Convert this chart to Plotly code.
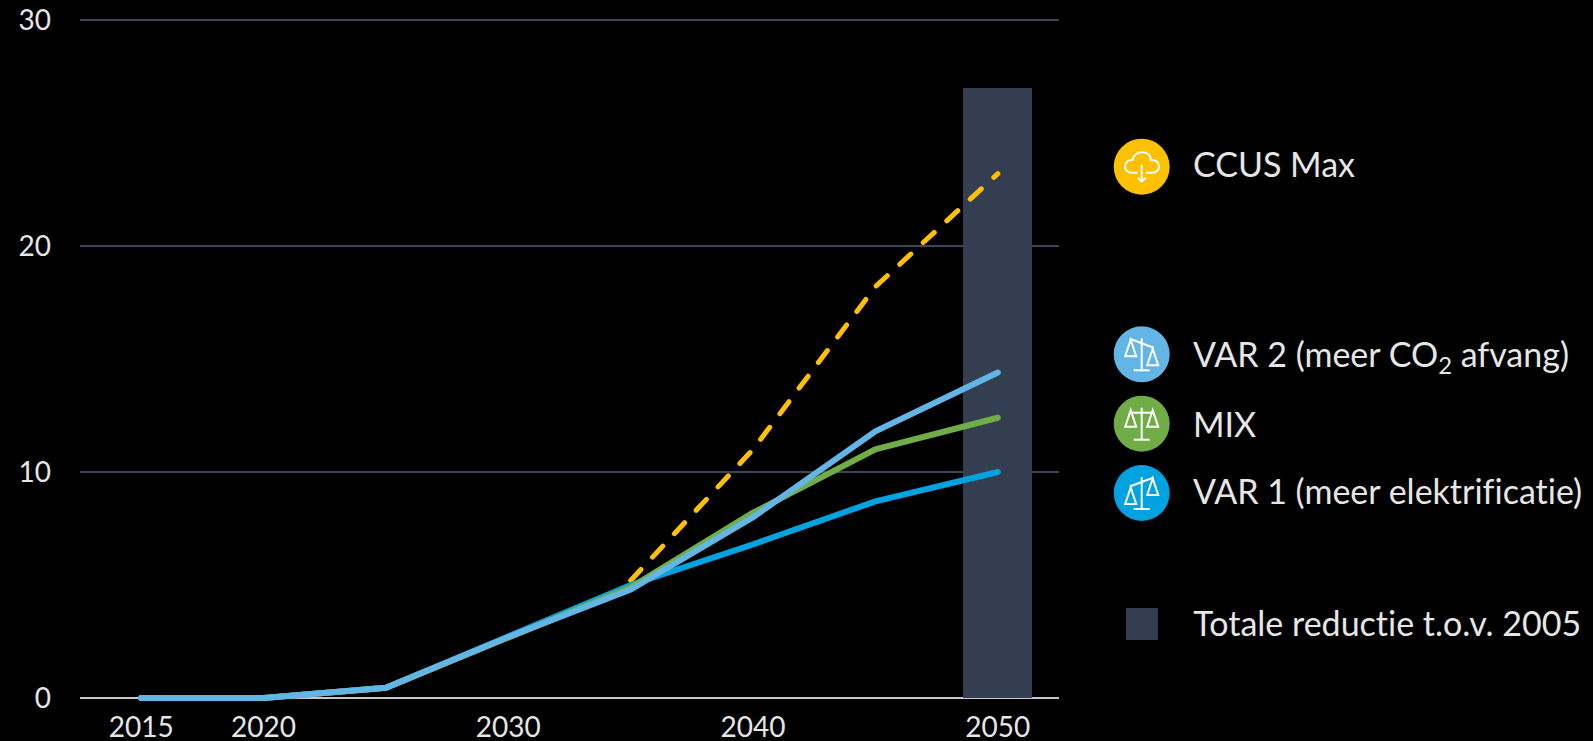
import plotly.graph_objects as go

W, H = 1593, 741
years = ["2015", "2020", "2025", "2030", "2035", "2040", "2045", "2050"]
tick_years = ["2015", "2020", "2030", "2040", "2050"]
y_ticks = [0, 10, 20, 30]
bar_years = ["2050"]
bar_values = [27.0]
years_ccus = ["2035", "2040", "2045", "2050"]
ccus_max = [5.2, 11.0, 18.2, 23.2]
var1 = [0, 0, 0.45, 2.7, 5.0, 6.8, 8.7, 10.0]
mix = [0, 0, 0.45, 2.7, 4.9, 8.2, 11.0, 12.4]
var2 = [0, 0, 0.45, 2.7, 4.8, 8.0, 11.8, 14.4]
legend_labels = ["CCUS Max", "VAR 2 (meer CO<sub>2</sub> afvang)", "MIX", "VAR 1 (meer elektrificatie)", "Totale reductie t.o.v. 2005"]

C_YEL, C_V2, C_MIX, C_V1, C_BAR = "#FFC000", "#62B5E5", "#70AD47", "#00A3E0", "#333F50"
FONT = "Lato, Carlito, Calibri, sans-serif"
TXT = "#E6E6E6"

fig = go.Figure()
fig.add_bar(x=bar_years, y=bar_values, marker_color=C_BAR, marker_line_width=0, width=0.565, showlegend=False)
fig.add_scatter(x=years_ccus, y=ccus_max, mode="lines", line=dict(color=C_YEL, width=5, dash="15px,17px"), showlegend=False)
fig.add_scatter(x=years, y=var1, mode="lines", line=dict(color=C_V1, width=6), showlegend=False)
fig.add_scatter(x=years, y=mix, mode="lines", line=dict(color=C_MIX, width=6), showlegend=False)
fig.add_scatter(x=years, y=var2, mode="lines", line=dict(color=C_V2, width=6), showlegend=False)

def px(x, y):
    return f"{x / W:.5f},{1 - y / H:.5f}"

def path(cmds):
    return " ".join(c if isinstance(c, str) else px(*c) for c in cmds)

shapes = []
def line_path(cmds, width=2):
    shapes.append(dict(type="path", xref="paper", yref="paper", path=path(cmds), line=dict(color="white", width=width), layer="above"))

def circle(cx, cy, r, color):
    shapes.append(dict(type="circle", xref="paper", yref="paper", x0=(cx - r) / W, x1=(cx + r) / W,
                       y0=1 - (cy + r) / H, y1=1 - (cy - r) / H, fillcolor=color, line_width=0, layer="above"))

def balance(cx, cy, color, tilt):
    circle(cx, cy, 28, color)
    ly, ry = -11 - tilt * 4.5, -11 + tilt * 4.5
    line_path(["M", (cx, cy - 16), "L", (cx, cy + 16)])
    line_path(["M", (cx - 8, cy + 16), "L", (cx + 8, cy + 16)])
    line_path(["M", (cx - 12, cy + ly), "L", (cx + 12, cy + ry)])
    for sx, base in ((-11, ly), (11, ry)):
        top = cy + base + (1 if tilt else -2.5)
        bot = top + 16.5
        line_path(["M", (cx + sx, top), "L", (cx + sx - 5.5, bot), "L", (cx + sx + 5.5, bot), "Z"])

LX = 1141.7
circle(LX, 166.7, 28, C_YEL)
c = lambda a, b: (LX + a, 166.7 + b)
line_path(["M", c(-4, 6), "L", c(-10, 6), "C", c(-19, 6), c(-19, -7), c(-9, -7), "C", c(-8, -17), c(9, -17), c(9, -7),
           "C", c(20, -7), c(20, 6), c(10, 6), "L", c(4, 6)])
line_path(["M", c(0, -2), "L", c(0, 15)])
line_path(["M", c(-4, 11), "L", c(0, 15), "L", c(4, 11)])
balance(LX, 354.3, C_V2, 1)
balance(LX, 423.7, C_MIX, 0)
balance(LX, 493, C_V1, -1)
shapes.append(dict(type="rect", xref="paper", yref="paper", x0=1126 / W, x1=1158 / W, y0=1 - 640 / H, y1=1 - 608 / H,
                   fillcolor=C_BAR, line_width=0))

ann = []
for lab, yy in zip(legend_labels, [164, 356, 424, 490, 622]):
    ann.append(dict(text=lab, xref="paper", yref="paper", x=1191 / W, y=1 - yy / H, xanchor="left", yanchor="middle",
                    showarrow=False, font=dict(family=FONT, size=34, color=TXT)))

fig.update_layout(
    width=W, height=H, margin=dict(l=0, r=0, t=0, b=0), paper_bgcolor="black", plot_bgcolor="black",
    bargap=0, shapes=shapes, annotations=ann, font=dict(family=FONT, size=28, color=TXT),
    xaxis=dict(type="category", categoryorder="array", categoryarray=years, range=[-0.5, 7.5], automargin=False,
               domain=[80 / W, 1059 / W], tickmode="array", tickvals=tick_years, ticktext=tick_years,
               showgrid=False, zeroline=False, showline=False, ticks="", ticklabelstandoff=3, anchor="y"),
    yaxis=dict(range=[-0.3, 30.1], domain=[1 - 704.78 / H, 1 - 17.74 / H], tickmode="array", tickvals=y_ticks, automargin=False,
               showgrid=True, gridcolor="#3B4759", gridwidth=1.5, zeroline=True, zerolinecolor="#C8C8C8",
               zerolinewidth=2, showline=False, ticks="", ticklabelstandoff=28, anchor="x"),
)
post = ("document.body.style.margin='0';"
        "var s=document.createElement('style');"
        "s.textContent='text,tspan{font-variant-ligatures:none !important;font-feature-settings:\"liga\" 0,\"clig\" 0,\"dlig\" 0 !important} .js-line{stroke-linecap:round}';"
        "document.head.appendChild(s);")
fig.write_html("out.html", post_script=post, config=dict(displayModeBar=False))
